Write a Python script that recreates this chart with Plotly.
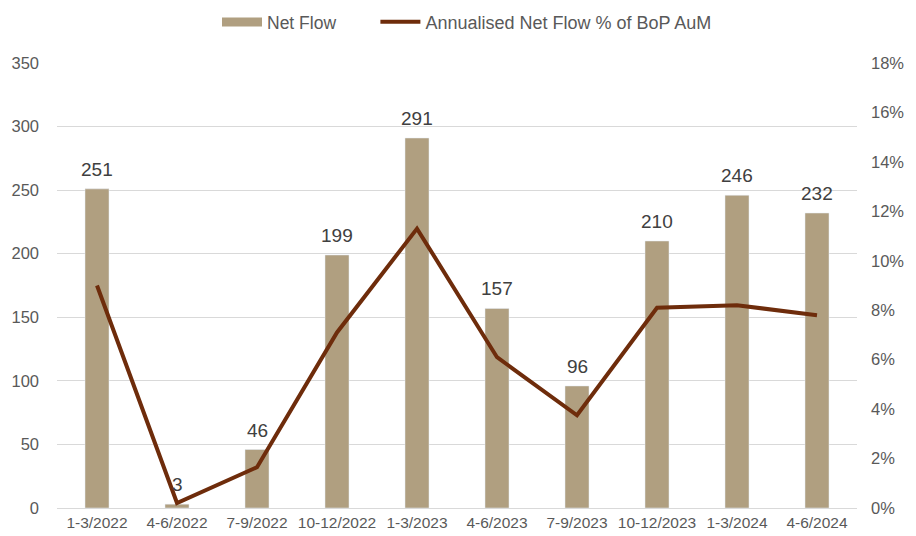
import plotly.graph_objects as go

categories = ["1-3/2022", "4-6/2022", "7-9/2022", "10-12/2022", "1-3/2023",
              "4-6/2023", "7-9/2023", "10-12/2023", "1-3/2024", "4-6/2024"]
net_flow = [251, 3, 46, 199, 291, 157, 96, 210, 246, 232]
pct_aum = [0.090, 0.002, 0.0165, 0.071, 0.113, 0.061, 0.0375, 0.081, 0.082, 0.078]

left_ticks = [0, 50, 100, 150, 200, 250, 300, 350]
right_ticks = [0, 0.02, 0.04, 0.06, 0.08, 0.10, 0.12, 0.14, 0.16, 0.18]

bar_color = "#B09F80"
line_color = "#6E2C0B"
text_color = "#595959"
font_family = "Liberation Sans, Arial, sans-serif"

fig = go.Figure()
fig.add_trace(go.Bar(
    x=categories, y=net_flow, name="Net Flow", showlegend=False,
    marker_color=bar_color, width=0.3,
))
# legend entry for bars drawn as a wide rectangle
fig.add_trace(go.Scatter(
    x=[None], y=[None], name="Net Flow", mode="lines",
    line=dict(color=bar_color, width=9), legend="legend",
))
fig.add_trace(go.Scatter(
    x=categories, y=pct_aum, name="Annualised Net Flow % of BoP AuM",
    mode="lines", line=dict(color=line_color, width=4),
    yaxis="y2", legend="legend2",
))

for c, v in zip(categories, net_flow):
    fig.add_annotation(x=c, y=v, xref="x", yref="y", text=str(v), showarrow=False,
                       yanchor="bottom", yshift=7,
                       font=dict(size=19, color="#404040", family=font_family))

legend_common = dict(orientation="h", y=1.092, yanchor="middle", xanchor="left",
                     itemwidth=40, bgcolor="rgba(0,0,0,0)")

fig.update_layout(
    width=916, height=536,
    margin=dict(l=49, r=67, t=55, b=36, autoexpand=False),
    paper_bgcolor="white", plot_bgcolor="white",
    font=dict(family=font_family, size=15, color=text_color),
    showlegend=True,
    legend=dict(x=0.2, font=dict(size=17.5, color=text_color), **legend_common),
    legend2=dict(x=0.398, font=dict(size=18, color=text_color), **legend_common),
    xaxis=dict(showgrid=False, showline=True, linecolor="#d9d9d9", linewidth=1,
               ticks="", tickfont=dict(size=15.5, color=text_color)),
    yaxis=dict(range=[0, 350], tickvals=left_ticks, showgrid=True,
               gridcolor="#d9d9d9", gridwidth=1, zeroline=False,
               ticklabelstandoff=17, tickfont=dict(size=16.5, color=text_color)),
    yaxis2=dict(range=[0, 0.18], tickvals=right_ticks, tickformat=".0%",
                overlaying="y", side="right", showgrid=False, zeroline=False,
                ticklabelstandoff=13, tickfont=dict(size=16.5, color=text_color)),
)

fig.write_html("out.html")
